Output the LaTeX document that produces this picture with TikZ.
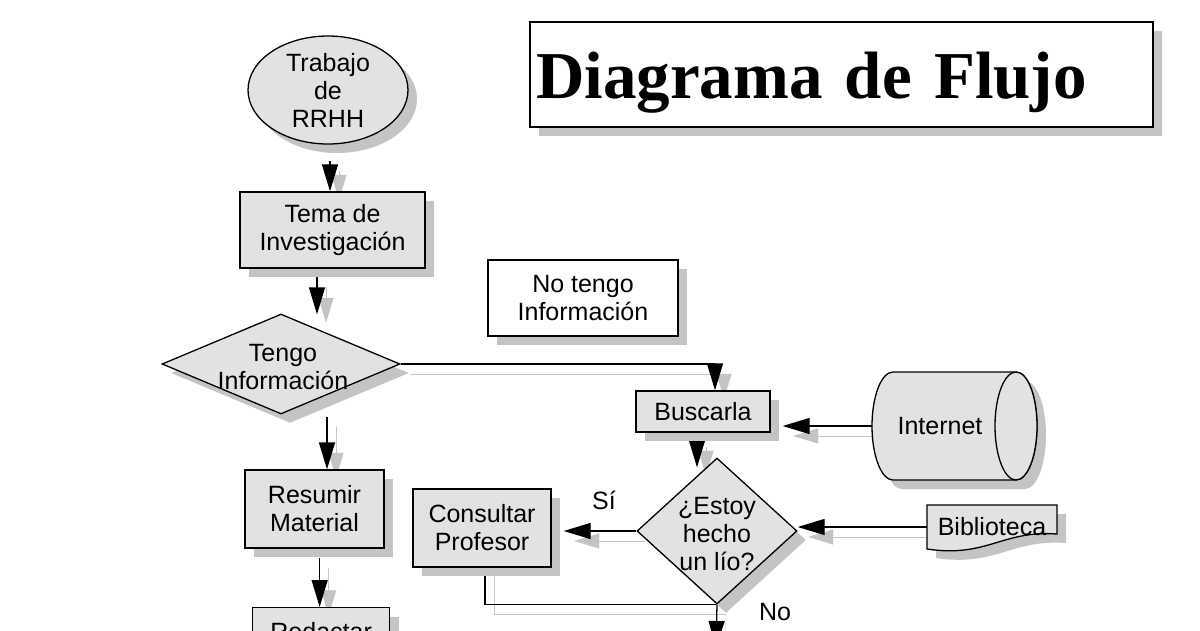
\documentclass[tikz,border=0pt]{standalone}
\usepackage{fontspec}
\setmainfont{Liberation Sans}
\newfontfamily\titlefont{Liberation Serif}
\usetikzlibrary{shapes.geometric, shadows, arrows.meta, calc}
\definecolor{boxgray}{HTML}{E2E2E2}
\definecolor{shadowgray}{HTML}{C4C4C4}
\pgfdeclarelayer{paper}
\pgfdeclarelayer{wires}
\pgfsetlayers{paper,wires,main}
\tikzset{
  fbox/.style={draw=black, line width=1.3pt, fill=boxgray, align=center, inner sep=0pt,
    drop shadow={shadow xshift=9pt, shadow yshift=-9pt, fill=shadowgray, opacity=1}},
  wbox/.style={fbox, fill=white},
  conn/.style={line width=1.3pt, -{Triangle[length=27pt,width=16pt]},
    preaction={draw=shadowgray, transform canvas={shift={(9pt,-10pt)}}}},
  wire/.style={line width=1.3pt,
    preaction={draw=shadowgray, transform canvas={shift={(9pt,-10pt)}}}},
  lbl/.style={inner sep=0pt, align=center}
}
\begin{document}
\begin{tikzpicture}[x=1pt, y=-1pt, font=\fontsize{25}{28}\selectfont]
\useasboundingbox (0,0) rectangle (1200,630);
\begin{pgfonlayer}{paper}
  \fill[white] (0,0) rectangle (1200,630);
\end{pgfonlayer}

% title
\node[wbox, minimum width=623, minimum height=105, text width=611, align=left,
      text height=63pt, text depth=15pt,
      font=\titlefont\bfseries\fontsize{67}{70}\selectfont] (title) at (841.5,74.5) {Diagrama de Flujo};

% left column
\node[fbox, ellipse, minimum width=160, minimum height=108] (ell) at (328,90) {Trabajo\\de\\RRHH};
\node[fbox, minimum width=185, minimum height=76] (tema) at (332.5,230) {Tema de\\Investigación};
\node[fbox, diamond, minimum width=238, minimum height=100] (d1) at (281,364) {};
\node[lbl] (d1t) at (283,367) {Tengo\\Información};
\node[fbox, minimum width=139, minimum height=78] (resumir) at (314.5,509) {Resumir\\Material};
\node[fbox, minimum width=137, minimum height=78, anchor=north west, text height=17pt, text depth=30pt] (redactar) at (252,607) {Redactar};

% right part
\node[wbox, minimum width=190, minimum height=76] (notengo) at (583,298) {No tengo\\Información};
\node[fbox, minimum width=134, minimum height=41] (busc) at (703,411.5) {Buscarla};

% Internet (cylinder drawn directly)
\coordinate (inetc) at (954.5,426);
\draw[fbox] ($(inetc)+(-61.5,-54)$) -- ($(inetc)+(61.5,-54)$) arc (-90:90:21 and 54)
  -- ($(inetc)+(-61.5,54)$) arc (90:270:21 and 54) -- cycle;
\draw[line width=1.3pt, fill=boxgray] ($(inetc)+(61.5,0)$) ellipse (21 and 54);
\node[lbl, minimum width=136, minimum height=108] (inet) at (940,426) {Internet};

\node[fbox, diamond, minimum width=160, minimum height=146] (est) at (717,531) {};
\node[lbl] (estt) at (717,534) {¿Estoy\\hecho\\un lío?};
\node[fbox, minimum width=138, minimum height=78] (cons) at (482,528) {Consultar\\Profesor};

% Biblioteca (document shape)
\coordinate (bibc) at (992,527);
\draw[fbox] ($(bibc)+(-65,-22)$) -- ($(bibc)+(65,-22)$) -- ($(bibc)+(65,7)$)
  .. controls ($(bibc)+(10,3)$) and ($(bibc)+(-5,31)$) .. ($(bibc)+(-65,22)$) -- cycle;
\node[lbl, minimum width=130, minimum height=44] (bib) at (bibc) {Biblioteca};

\node[lbl] (lsi) at (604,500) {Sí};
\node[lbl] (lno) at (775,612) {No};
\coordinate (nxt) at (716,648);

% connectors
\begin{pgfonlayer}{wires}
  \draw[conn] ($(tema.north)+(-2.5,-30)$) -- ($(tema.north)+(-2.5,0)$);
  \draw[conn] ($(d1.north)+(36,-36)$) -- ($(d1.north)+(36,1)$);
  \draw[conn] ($(resumir.north)+(12.5,-52)$) -- ($(resumir.north)+(12.5,0)$);
  \draw[conn] ($(redactar.north)+(-1.5,-49)$) -- ($(redactar.north)+(-1.5,0)$);
  \draw[conn] (d1.east) -| ($(busc.north)+(12,0)$);
  \draw[conn] ($(est.north)+(-20,-20)$) -- ($(est.north)+(-20,10)$);
  \draw[conn] (inet.west) -- ($(inet.west -| busc.east)+(12,0)$);
  \draw[conn] (est.west) -- ($(est.west -| cons.east)+(12,0)$);
  \draw[conn] (bib.west) -- (bib.west -| est.east);
  \draw[wire] ($(cons.south)+(3,-10)$) |- (est.south);
  \draw[conn] (est.south) -- (nxt);
\end{pgfonlayer}
\end{tikzpicture}
\end{document}
